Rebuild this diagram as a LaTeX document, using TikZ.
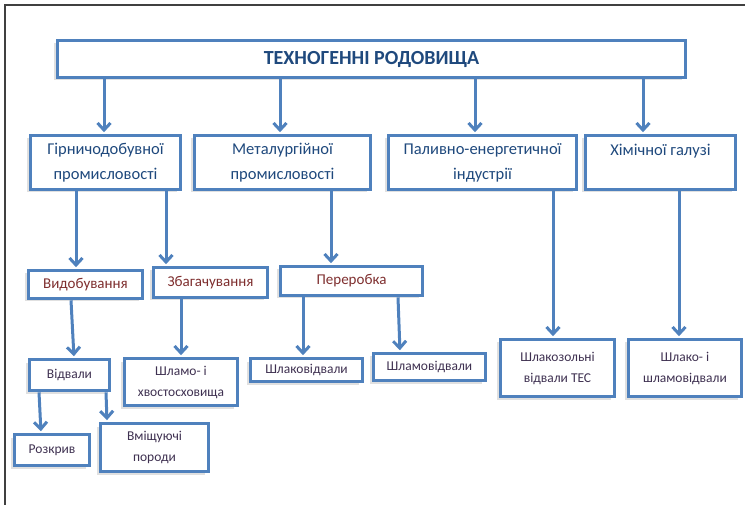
\documentclass[tikz,border=0pt]{standalone}
\usepackage{fontspec}
\setmainfont{Carlito}
\usepackage{xcolor}
\usepackage{tikz}
\usetikzlibrary{arrows.meta, shadows}

\definecolor{boxblue}{HTML}{4F81BD}
\definecolor{titleblue}{HTML}{1F497D}
\definecolor{stepred}{HTML}{7F2F2F}
\definecolor{leafplum}{HTML}{3F3151}

\begin{document}
\begin{tikzpicture}[x=1pt, y=-1pt,
  box/.style={draw=boxblue, line width=3.6pt, fill=white, inner sep=1pt, align=center,
    drop shadow={shadow xshift=-3.5pt, shadow yshift=-3pt, fill=black!12, opacity=1}},
  head/.style={box, text=titleblue, font=\fontsize{20}{22}\selectfont\bfseries},
  branch/.style={box, text=titleblue, font=\fontsize{16.5}{25}\selectfont},
  stage/.style={box, text=stepred, font=\fontsize{15}{17}\selectfont},
  dump/.style={box, text=leafplum, font=\fontsize{13.5}{21}\selectfont},
  arr/.style={draw=boxblue, line width=3pt, shorten >=1.5pt,
    -{Straight Barb[length=7pt, width=13pt]}},
  frame/.style={draw=black!75, line width=1.2pt}]
\useasboundingbox (0, 0) rectangle (745, 505);
\draw[frame] (5, 505) -- (5, 5) -- (745, 5);
\node[head, minimum width=628pt, minimum height=37pt] (main) at (371.5, 59) {ТЕХНОГЕННІ РОДОВИЩА};
\node[branch, minimum width=150pt, minimum height=54pt] (gir) at (105.5, 162.5) {Гірничодобувної\\промисловості};
\node[branch, minimum width=176pt, minimum height=54pt] (met) at (282.5, 162.5) {Металургійної\\промисловості};
\node[branch, minimum width=188pt, minimum height=54pt] (pal) at (482.5, 162.5) {Паливно-енергетичної\\індустрії};
\node[branch, minimum width=150pt, minimum height=54pt] (xim) at (660.5, 162.5) {Хімічної галузі\\\mbox{}};
\node[stage, minimum width=114pt, minimum height=28pt] (vyd) at (85.5, 284.5) {Видобування};
\node[stage, minimum width=114pt, minimum height=30pt] (zba) at (210.5, 282.5) {Збагачування};
\node[stage, minimum width=142pt, minimum height=29pt] (per) at (351.5, 281) {Переробка};
\node[dump, minimum width=80pt, minimum height=31pt] (vid) at (69.5, 375) {Відвали};
\node[dump, minimum width=113pt, minimum height=47pt] (shl) at (181, 382) {Шламо- і\\хвостосховища};
\node[dump, minimum width=112pt, minimum height=23pt] (shk) at (306.5, 370) {Шлаковідвали};
\node[dump, minimum width=112pt, minimum height=27pt] (shm) at (429.5, 367) {Шламовідвали};
\node[dump, minimum width=114pt, minimum height=57pt] (tes) at (557.5, 368) {Шлакозольні\\відвали ТЕС};
\node[dump, minimum width=113pt, minimum height=57pt] (shs) at (685, 368) {Шлако- і\\шламовідвали};
\node[dump, minimum width=75pt, minimum height=31pt] (roz) at (52, 450) {Розкрив};
\node[dump, minimum width=108pt, minimum height=48pt] (vmi) at (154.5, 447.5) {Вміщуючі\\породи};
\draw[arr] (main.south -| 104, 0) -- (gir.north -| 104, 0);
\draw[arr] (main.south -| 280, 0) -- (met.north -| 280, 0);
\draw[arr] (main.south -| 475, 0) -- (pal.north -| 475, 0);
\draw[arr] (main.south -| 643, 0) -- (xim.north -| 643, 0);
\draw[arr] (gir.south -| 76, 0) -- (vyd.north -| 76, 0);
\draw[arr] (gir.south -| 166, 0) -- (zba.north -| 166, 0);
\draw[arr] (met.south -| 331, 0) -- (per.north -| 331, 0);
\draw[arr] (pal.south -| 553, 0) -- (tes.north -| 553, 0);
\draw[arr] (xim.south -| 679, 0) -- (shs.north -| 679, 0);
\draw[arr] (vyd.south -| 71, 0) -- ([xshift=4.5pt]vid.north);
\draw[arr] (zba.south -| 181, 0) -- (shl.north);
\draw[arr] (per.south -| 303, 0) -- (shk.north -| 303, 0);
\draw[arr] (per.south -| 398, 0) -- ([xshift=-29.5pt]shm.north);
\draw[arr] (vid.south -| 39, 0) -- ([xshift=-11pt]roz.north);
\draw[arr] (vid.south -| 106, 0) -- ([xshift=-47.5pt]vmi.north);
\end{tikzpicture}
\end{document}
